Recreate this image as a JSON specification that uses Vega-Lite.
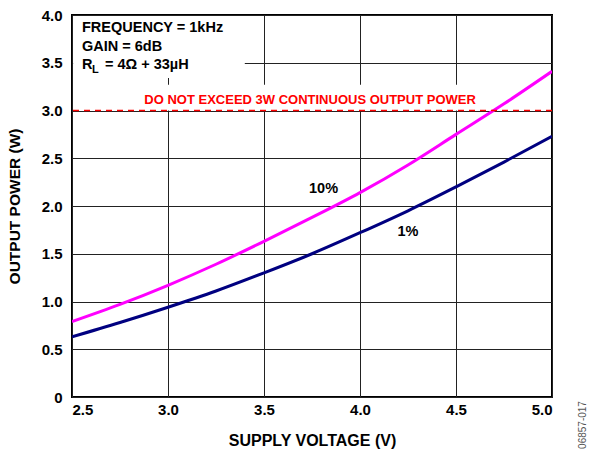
{
  "$schema": "https://vega.github.io/schema/vega-lite/v6.json",
  "width": 480,
  "height": 382,
  "autosize": {"type": "none"},
  "padding": {"left": 72, "top": 15, "right": 41, "bottom": 59},
  "background": "white",
  "config": {
    "view": {"stroke": "black", "strokeWidth": 2},
    "font": "Liberation Sans",
    "axis": {
      "grid": true, "gridColor": "#222", "gridWidth": 1, "gridOpacity": 1,
      "domain": false, "ticks": false,
      "labelFont": "Liberation Sans", "labelFontWeight": "bold", "labelFontSize": 15, "labelColor": "black",
      "titleFont": "Liberation Sans", "titleFontWeight": "bold", "titleFontSize": 15.5, "titleColor": "black"
    }
  },
  "datasets": {
    "curves": [
      {"v": 2.5, "p": 0.79, "s": "10%"}, {"v": 2.75, "p": 0.97, "s": "10%"}, {"v": 3.0, "p": 1.17, "s": "10%"},
      {"v": 3.25, "p": 1.39, "s": "10%"}, {"v": 3.5, "p": 1.63, "s": "10%"}, {"v": 3.75, "p": 1.88, "s": "10%"},
      {"v": 4.0, "p": 2.14, "s": "10%"}, {"v": 4.25, "p": 2.43, "s": "10%"}, {"v": 4.5, "p": 2.75, "s": "10%"},
      {"v": 4.75, "p": 3.07, "s": "10%"}, {"v": 5.0, "p": 3.41, "s": "10%"},
      {"v": 2.5, "p": 0.63, "s": "1%"}, {"v": 2.75, "p": 0.78, "s": "1%"}, {"v": 3.0, "p": 0.94, "s": "1%"},
      {"v": 3.25, "p": 1.11, "s": "1%"}, {"v": 3.5, "p": 1.30, "s": "1%"}, {"v": 3.75, "p": 1.50, "s": "1%"},
      {"v": 4.0, "p": 1.72, "s": "1%"}, {"v": 4.25, "p": 1.95, "s": "1%"}, {"v": 4.5, "p": 2.20, "s": "1%"},
      {"v": 4.75, "p": 2.46, "s": "1%"}, {"v": 5.0, "p": 2.73, "s": "1%"}
    ],
    "curveLabels": [
      {"v": 3.81, "p": 2.18, "t": "10%"},
      {"v": 4.25, "p": 1.73, "t": "1%"}
    ],
    "notes": [
      {"v": 2.552, "p": 3.86, "t": "FREQUENCY = 1kHz"},
      {"v": 2.552, "p": 3.665, "t": "GAIN = 6dB"},
      {"v": 2.552, "p": 3.475, "t": "R"},
      {"v": 2.672, "p": 3.475, "t": "= 4Ω + 33µH"}
    ],
    "masks": [
      {"v": 2.506, "v2": 3.4, "p": 3.34, "p2": 3.99},
      {"v": 2.87, "v2": 4.625, "p": 3.0, "p2": 3.27}
    ]
  },
  "layer": [
    {
      "data": {"name": "masks"},
      "mark": {"type": "rect", "color": "white"},
      "encoding": {
        "x": {"field": "v", "type": "quantitative", "scale": {"domain": [2.5, 5.0], "nice": false, "zero": false},
              "axis": {"values": [2.5, 3.0, 3.5, 4.0, 4.5, 5.0], "format": ".1f", "title": "SUPPLY VOLTAGE (V)", "labelPadding": 5, "titlePadding": 15, "labelFlush": true, "titleFontSize": 16}},
        "x2": {"field": "v2"},
        "y": {"field": "p", "type": "quantitative", "scale": {"domain": [0, 4.0], "nice": false},
              "axis": {"values": [0, 0.5, 1.0, 1.5, 2.0, 2.5, 3.0, 3.5, 4.0], "labelExpr": "datum.value == 0 ? '0' : format(datum.value, '.1f')", "title": "OUTPUT POWER (W)", "labelPadding": 10, "titlePadding": 19, "labelFlush": false}},
        "y2": {"field": "p2"}
      }
    },
    {
      "data": {"name": "curves"},
      "mark": {"type": "line", "strokeWidth": 3, "interpolate": "monotone", "clip": true},
      "encoding": {
        "x": {"field": "v", "type": "quantitative", "scale": {"domain": [2.5, 5.0], "nice": false, "zero": false}},
        "y": {"field": "p", "type": "quantitative", "scale": {"domain": [0, 4.0], "nice": false}},
        "color": {"field": "s", "type": "nominal", "scale": {"domain": ["10%", "1%"], "range": ["#ff00ff", "#000080"]}, "legend": null}
      }
    },
    {
      "data": {"values": [{"p": 3.0}]},
      "mark": {"type": "rule", "color": "#ff0000", "strokeWidth": 1.5, "strokeDash": [6, 5]},
      "encoding": {"y": {"field": "p", "type": "quantitative"}}
    },
    {
      "data": {"values": [{"v": 3.74, "p": 3.115, "t": "DO NOT EXCEED 3W CONTINUOUS OUTPUT POWER"}]},
      "mark": {"type": "text", "color": "#ff0000", "fontWeight": "bold", "fontSize": 13, "font": "Liberation Sans", "align": "center", "baseline": "middle"},
      "encoding": {"x": {"field": "v", "type": "quantitative"}, "y": {"field": "p", "type": "quantitative"}, "text": {"field": "t"}}
    },
    {
      "data": {"name": "curveLabels"},
      "mark": {"type": "text", "color": "black", "fontWeight": "bold", "fontSize": 14.5, "font": "Liberation Sans", "align": "center", "baseline": "middle"},
      "encoding": {"x": {"field": "v", "type": "quantitative"}, "y": {"field": "p", "type": "quantitative"}, "text": {"field": "t"}}
    },
    {
      "data": {"name": "notes"},
      "mark": {"type": "text", "color": "black", "fontWeight": "bold", "fontSize": 14.5, "font": "Liberation Sans", "align": "left", "baseline": "middle"},
      "encoding": {"x": {"field": "v", "type": "quantitative"}, "y": {"field": "p", "type": "quantitative"}, "text": {"field": "t"}}
    },
    {
      "data": {"values": [{"v": 2.604, "p": 3.475, "t": "L"}]},
      "mark": {"type": "text", "color": "black", "fontWeight": "bold", "fontSize": 11, "font": "Liberation Sans", "align": "left", "baseline": "middle", "dy": 5},
      "encoding": {"x": {"field": "v", "type": "quantitative"}, "y": {"field": "p", "type": "quantitative"}, "text": {"field": "t"}}
    },
    {
      "data": {"values": [{"v": 5.0, "p": 0, "t": "06857-017"}]},
      "mark": {"type": "text", "color": "#555", "fontSize": 10, "font": "Liberation Sans", "angle": 270, "align": "center", "baseline": "middle", "dx": -28, "dy": 31, "clip": false},
      "encoding": {"x": {"field": "v", "type": "quantitative"}, "y": {"field": "p", "type": "quantitative"}, "text": {"field": "t"}}
    }
  ]
}
